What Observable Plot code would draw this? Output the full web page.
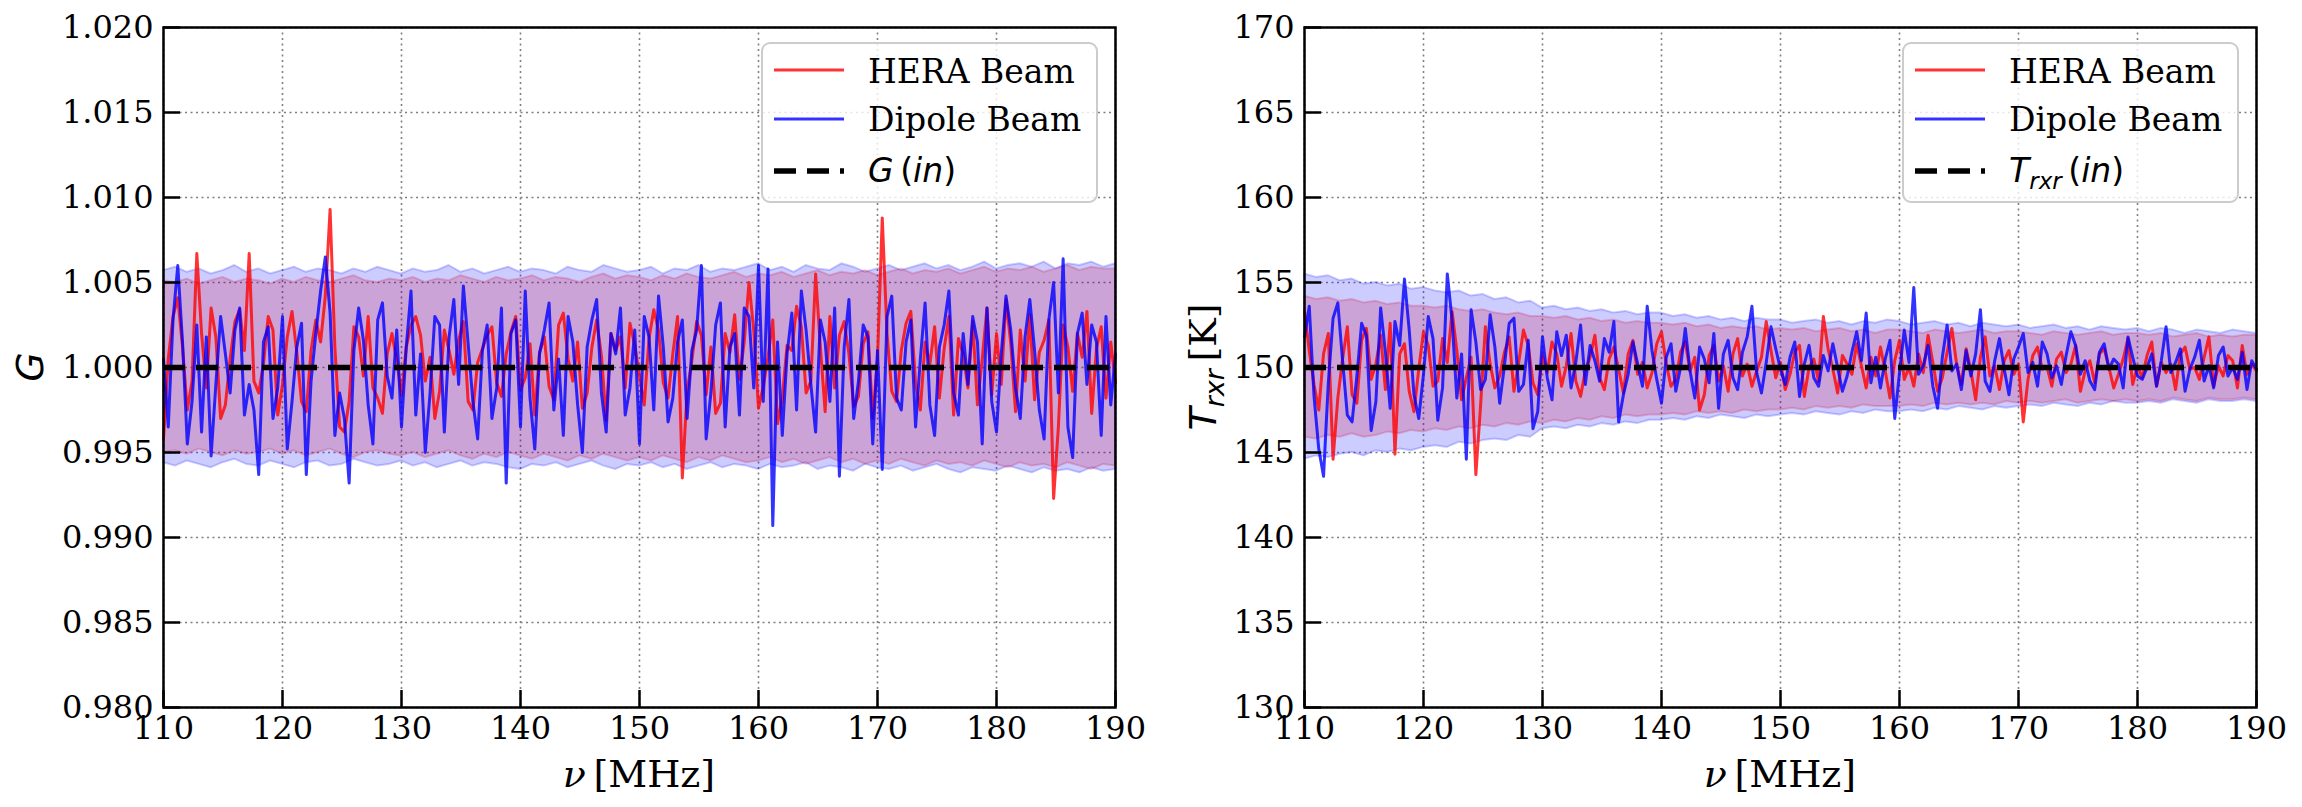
<!DOCTYPE html>
<html><head><meta charset="utf-8">
<script src="https://cdn.jsdelivr.net/npm/d3@7"></script>
<script src="https://cdn.jsdelivr.net/npm/@observablehq/plot@0.6"></script>
<style>
body{margin:0;background:#fff}
#wrap{position:relative;width:2302px;height:807px;display:flex}
#wrap svg{display:block}
</style>
</head><body><div id="wrap"></div>
<script>
// ---- tick values ----
const xTicks = [110,120,130,140,150,160,170,180,190];
const gTicks = [0.980,0.985,0.990,0.995,1.000,1.005,1.010,1.015,1.020];
const tTicks = [130,135,140,145,150,155,160,165,170];
const gTrue = 1.0;     // G(in)
const tTrue = 150;     // T_rxr(in)
const seriesNames = ["HERA Beam", "Dipole Beam"];

// frequency grid of the recovered solutions (MHz) and of the 1-sigma bands
const freq = d3.range(201).map(i => +(110 + i * 0.4).toFixed(1));
const bandFreq = d3.range(110, 191);

// ---- recovered gain G ----
const gHera = [
0.9958,1.0005,1.003,1.0041,1.0012,0.9975,0.9992,1.0067,1.002,0.9988,
1.0035,1.0018,0.997,0.9978,1.0005,1.0027,1.0034,1.001,1.0067,0.9992,
0.9985,1.0002,1.003,1.0022,0.9972,0.999,1.0018,1.0033,1.0009,0.998,
0.9974,1.001,1.0028,1.0015,1.0042,1.0093,1.0012,0.9965,0.9962,0.998,
1.0024,1.0018,0.9995,1.003,0.9988,0.9982,0.9973,1.0008,1.002,1.0004,
0.9984,1.0012,1.0025,1.003,1.0019,0.9992,1.0006,0.997,0.9986,1.0022,
1.001,0.9996,1.0016,1.0027,0.998,0.9975,1.0003,1.0011,1.0019,1.0024,
0.9991,0.9983,1.0008,1.0021,1.003,0.9987,0.9994,1.0014,0.9972,1.0009,
1.0018,0.9989,0.9981,1.0025,1.0032,1.0005,0.9992,1.0015,0.9976,0.9985,
1.0012,1.0028,1.0007,0.9969,1.002,1.001,1.0018,0.9988,1.0026,1.0013,
0.9995,0.9978,1.0017,1.0034,1.0022,0.9991,0.9982,1.0008,1.003,0.9935,
0.9986,1.0004,1.0027,1.0019,0.9984,1.0012,0.9973,0.9979,1.002,1.0009,
1.0031,0.9993,1.0015,1.005,1.0022,0.9976,0.9989,1.0006,1.0028,0.9967,
0.9982,1.0013,1.001,1.0036,1.0024,0.9985,0.9992,1.0055,1.0012,0.9974,
1.003,0.9988,1.0019,1.0027,1.0008,0.9977,0.9983,1.0014,1.0021,0.997,
1.0005,1.0088,1.002,0.9986,0.998,1.001,1.0026,1.0033,0.9991,0.9975,
1.0015,1.0002,1.0024,0.9982,1.0011,1.003,0.9972,1.0017,1.0008,0.9988,
1.0027,0.9978,1.0005,1.0035,0.9984,1.002,0.999,1.004,1.0014,0.9974,
1.0022,0.9992,1.0031,0.9981,1.0009,1.0016,1.0028,0.9923,0.9965,1.0025,
1.0012,0.9986,1.002,1.0006,1.0033,0.9973,1.0011,1.0024,0.9982,1.0015,0.9991];

const gDipole = [
1.0005,0.9965,1.0028,1.006,1.0015,0.9955,0.998,1.0025,0.9962,1.0018,
0.9948,0.999,1.003,1.0008,0.9985,1.0022,1.0035,0.9972,0.999,0.9975,
0.9937,1.0015,1.0024,0.997,0.9988,1.003,0.9952,0.998,1.0012,1.0026,
0.9937,0.9992,1.002,1.0045,1.0065,1.0032,0.996,0.9985,0.997,0.9932,
1.001,1.0035,1.0016,0.9978,0.9955,1.0028,1.0038,0.9995,0.9982,1.0022,
0.9965,1.0012,1.0045,0.9972,1.0008,0.995,0.9985,1.003,1.0025,0.9962,
1.0018,1.004,0.999,1.0048,1.0014,0.998,0.9958,1.001,1.0025,0.997,
0.9988,1.0035,0.9932,1.002,1.0028,0.9965,1.0045,0.9982,0.9952,1.0008,
1.0022,1.0038,0.9975,1.0005,0.996,1.003,1.0015,0.9978,0.995,1.0012,
1.0028,1.004,0.9985,0.9962,1.002,1.0008,1.0035,0.9972,0.9988,1.0022,
0.9955,1.003,1.0018,0.9975,1.0042,1.0012,0.9968,0.9982,1.0015,1.0028,
0.997,1.001,1.0022,1.006,0.9958,0.9985,1.0025,1.0038,0.9965,1.0012,
1.002,0.9972,1.0035,1.003,0.9988,1.006,0.998,1.0058,0.9907,1.0015,
0.996,1.0008,1.0032,0.9975,1.0045,1.0022,0.999,0.9962,1.0028,1.0015,
0.998,1.0035,0.9936,1.0012,1.004,0.997,0.9992,1.0025,1.0018,0.9955,
1.001,0.994,1.003,1.0042,0.9982,0.9975,1.0015,1.0028,0.9965,1.0005,
1.0038,0.9978,0.996,1.0012,1.0025,1.0045,0.9985,0.9972,1.002,0.999,
1.003,1.0015,0.9955,1.0035,0.998,0.9962,1.0008,1.0042,1.0022,0.9988,
0.997,1.0018,1.004,1.001,0.9975,0.9958,1.0028,1.005,0.9985,1.0064,
0.9965,0.9947,1.002,1.0032,0.999,1.0025,1.0015,0.996,1.003,0.9978,1.0008];

// 1-sigma bands of G (1 MHz grid)
const gHeraHi = [
1.0051,1.005,1.0052,1.0049,1.0051,1.0053,1.005,1.0052,1.0051,1.0049,
1.0052,1.005,1.0053,1.0051,1.005,1.0052,1.0054,1.0051,1.005,1.0052,
1.0051,1.0053,1.005,1.0052,1.0051,1.0054,1.0052,1.005,1.0053,1.0051,
1.0052,1.0054,1.0051,1.0053,1.0052,1.005,1.0053,1.0055,1.0052,1.0054,
1.0053,1.0051,1.0054,1.0052,1.0055,1.0053,1.0052,1.0054,1.0056,1.0053,
1.0055,1.0054,1.0056,1.0053,1.0055,1.0057,1.0054,1.0056,1.0055,1.0057,
1.0054,1.0056,1.0058,1.0055,1.0057,1.0056,1.0058,1.0055,1.0057,1.0059,
1.0056,1.0058,1.0057,1.0059,1.0056,1.0058,1.006,1.0057,1.0059,1.0058,1.0058];
const gHeraLo = [
0.995,0.9951,0.9949,0.9952,0.995,0.9948,0.9951,0.9949,0.995,0.9952,
0.9949,0.9951,0.9948,0.995,0.9952,0.9949,0.9947,0.995,0.9951,0.9949,
0.9948,0.995,0.9947,0.9949,0.9951,0.9948,0.9946,0.9949,0.9947,0.995,
0.9948,0.9946,0.9949,0.9947,0.9945,0.9948,0.9946,0.9949,0.9947,0.9945,
0.9947,0.9945,0.9948,0.9946,0.9944,0.9947,0.9945,0.9948,0.9946,0.9944,
0.9945,0.9947,0.9944,0.9946,0.9943,0.9945,0.9947,0.9944,0.9946,0.9943,
0.9945,0.9943,0.9946,0.9944,0.9942,0.9945,0.9943,0.9944,0.9942,0.9945,
0.9943,0.9941,0.9944,0.9942,0.9943,0.9941,0.9944,0.9942,0.994,0.9943,0.9942];
const gDipHi = [
1.0057,1.0059,1.0056,1.0058,1.0055,1.0057,1.006,1.0056,1.0058,1.0055,
1.0057,1.0059,1.0056,1.0058,1.0057,1.0055,1.0058,1.0056,1.0059,1.0057,
1.0055,1.0058,1.0056,1.0057,1.006,1.0056,1.0058,1.0055,1.0057,1.0059,
1.0056,1.0058,1.0057,1.0055,1.0059,1.0057,1.0056,1.006,1.0058,1.0056,
1.0057,1.0059,1.0055,1.0058,1.0057,1.006,1.0056,1.0058,1.0057,1.0059,
1.0061,1.0057,1.0059,1.0056,1.006,1.0058,1.0057,1.0061,1.0059,1.0056,
1.0058,1.006,1.0057,1.0059,1.0061,1.0058,1.006,1.0057,1.0059,1.0062,
1.0058,1.006,1.0061,1.0059,1.0062,1.0058,1.0061,1.006,1.0062,1.0059,1.0061];
const gDipLo = [
0.9944,0.9942,0.9945,0.9943,0.9941,0.9944,0.9946,0.9943,0.9942,0.9945,
0.9943,0.9941,0.9944,0.9945,0.9942,0.9943,0.9946,0.9944,0.9942,0.9943,
0.9945,0.9942,0.9944,0.9941,0.9943,0.9945,0.9942,0.9944,0.9943,0.9941,
0.994,0.9943,0.9942,0.9944,0.9941,0.9943,0.9945,0.9942,0.994,0.9943,
0.9942,0.9944,0.9941,0.9943,0.994,0.9942,0.9944,0.9941,0.9943,0.9942,
0.994,0.9943,0.9941,0.9942,0.9944,0.994,0.9942,0.9941,0.9939,0.9943,
0.9941,0.994,0.9942,0.9939,0.9941,0.9943,0.994,0.9938,0.9941,0.994,
0.9939,0.9942,0.994,0.9938,0.9941,0.9939,0.994,0.9938,0.9941,0.9939,0.994];

// ---- recovered receiver temperature T_rxr (K) ----
const tHera = [
153.3,151.0,149.0,147.5,150.8,152.0,144.6,148.2,150.5,152.4,
148.4,147.9,151.6,152.3,149.3,150.2,151.9,148.7,152.6,144.9,
150.8,151.4,148.6,147.4,149.9,152.1,151.3,148.9,149.2,151.7,
150.3,153.3,151.0,148.1,149.4,150.6,143.7,147.8,152.4,150.2,
148.8,149.5,150.9,151.8,148.6,150.3,152.2,151.3,149.1,148.4,
150.7,149.7,151.5,150.8,148.9,150.1,152.0,149.2,148.3,149.8,
150.6,151.9,149.4,148.7,150.5,151.2,149.9,148.5,150.8,151.6,
149.6,150.3,148.8,149.7,151.4,152.1,150.2,148.9,149.3,150.9,
151.5,149.8,150.6,147.5,148.4,150.7,151.3,149.2,150.1,148.6,
150.8,151.7,149.5,150.2,148.9,149.8,150.6,152.7,151.0,149.4,
150.3,148.7,149.6,150.9,151.3,148.3,150.0,150.5,149.2,153.0,
151.1,149.9,148.5,150.7,150.2,149.6,151.4,150.1,148.8,150.6,
149.5,151.2,149.8,148.2,150.4,151.6,149.3,150.0,148.9,150.8,
149.7,151.9,150.3,148.6,149.4,150.9,152.3,150.2,149.0,151.1,
149.8,148.1,150.6,151.8,149.5,150.1,148.7,150.4,151.0,149.6,
150.2,146.8,149.3,150.7,151.2,149.9,150.0,148.9,150.5,150.9,
149.7,150.2,151.3,148.6,149.8,150.4,149.1,150.8,151.1,150.0,
148.8,149.6,150.5,151.7,149.0,150.1,149.4,150.7,151.5,148.9,
150.3,149.7,150.2,148.7,150.8,151.2,149.9,150.0,149.3,150.6,
151.8,148.9,150.1,149.5,150.7,150.4,148.8,151.3,149.6,150.2,149.8];

const tDipole = [
151.8,153.6,148.3,145.2,143.6,149.1,152.9,153.8,150.4,147.2,
146.8,149.5,152.6,151.9,146.3,148.0,153.5,150.9,147.6,152.7,
151.3,155.2,152.2,148.4,147.0,149.6,153.0,151.7,146.9,148.8,
155.5,152.8,148.2,150.8,144.6,153.4,151.5,148.7,149.3,153.1,
151.2,147.9,150.1,152.6,152.9,148.6,149.0,151.6,146.4,147.4,
151.8,149.4,148.1,152.1,150.7,151.9,148.8,150.3,152.5,149.0,
151.3,150.4,149.2,151.7,150.9,152.7,146.8,148.4,149.6,151.5,
150.2,148.9,153.6,151.0,149.3,147.9,150.6,151.4,148.6,150.0,
152.3,149.8,148.2,151.2,150.5,149.1,152.0,147.6,150.8,151.6,
149.4,148.7,150.9,151.8,153.6,149.7,148.5,150.3,152.4,151.1,
149.9,149.0,150.6,151.5,148.3,150.2,151.3,149.4,148.9,150.7,
149.8,151.4,150.0,148.6,149.5,150.9,152.1,150.4,153.2,149.1,
150.6,148.8,150.5,151.6,147.0,149.7,152.2,150.3,154.7,149.6,
150.1,151.3,148.9,147.6,150.6,152.5,149.8,150.2,148.7,151.0,
149.5,150.8,153.4,149.2,148.6,150.4,151.7,149.9,148.4,150.5,
151.2,152.0,149.7,150.3,148.9,151.5,150.8,149.4,150.1,149.0,
150.7,152.1,151.3,149.6,150.4,149.2,148.7,150.9,151.4,149.9,
150.5,150.2,148.8,151.8,150.6,149.5,149.3,150.0,150.8,148.9,
150.4,152.4,149.7,150.3,151.1,148.6,149.9,150.6,151.6,149.2,
150.1,148.8,150.7,151.2,149.5,150.0,149.3,150.9,148.7,150.4,149.9];

// 1-sigma bands of T_rxr (1 MHz grid)
const tHeraHi = [
154.2,154.0,154.1,153.9,154.0,153.8,153.9,153.7,153.8,153.6,
153.6,153.5,153.6,153.4,153.3,153.4,153.2,153.1,153.2,153.0,
153.0,152.9,153.0,152.8,152.9,152.7,152.8,152.6,152.7,152.6,
152.6,152.5,152.6,152.4,152.5,152.3,152.4,152.3,152.4,152.2,
152.3,152.2,152.3,152.1,152.2,152.3,152.1,152.2,152.0,152.2,
152.2,152.1,152.0,152.2,152.1,152.0,152.1,152.2,152.0,152.1,
152.1,152.0,151.9,152.1,152.0,151.9,152.0,152.1,151.9,152.0,
152.0,151.9,152.0,151.8,151.9,152.0,151.8,151.9,151.8,151.9,151.9];
const tHeraLo = [
145.9,145.8,146.0,145.9,146.1,145.9,146.0,146.2,146.1,146.3,
146.2,146.4,146.3,146.5,146.4,146.6,146.5,146.7,146.6,146.8,
146.7,146.9,146.8,147.0,146.9,147.1,147.0,147.2,147.1,147.2,
147.2,147.3,147.2,147.4,147.3,147.4,147.3,147.5,147.4,147.5,
147.5,147.6,147.5,147.7,147.6,147.7,147.6,147.8,147.7,147.7,
147.7,147.8,147.7,147.9,147.8,147.9,147.8,147.9,147.8,148.0,
147.9,148.0,147.9,148.0,148.1,147.9,148.0,148.1,148.0,148.1,
148.0,148.1,148.0,148.2,148.1,148.0,148.2,148.1,148.1,148.2,148.1];
const tDipHi = [
155.5,155.3,155.4,155.1,155.2,154.9,155.0,154.8,154.9,154.6,
154.7,154.5,154.4,154.5,154.2,154.3,154.0,154.1,153.8,153.9,
153.5,153.6,153.4,153.5,153.3,153.4,153.2,153.3,153.1,153.2,
153.2,153.0,153.1,152.9,153.0,152.8,152.9,152.7,152.9,152.8,
152.8,152.6,152.7,152.8,152.6,152.7,152.5,152.7,152.6,152.8,
152.7,152.5,152.6,152.7,152.5,152.6,152.4,152.6,152.5,152.4,
152.5,152.3,152.4,152.5,152.3,152.4,152.2,152.4,152.3,152.2,
152.3,152.1,152.3,152.2,152.0,152.2,152.1,152.0,152.2,152.1,152.0];
const tDipLo = [
144.6,144.8,144.7,144.9,145.0,144.8,145.1,145.0,145.2,145.1,
145.3,145.4,145.3,145.6,145.5,145.7,145.8,145.7,146.0,145.9,
146.4,146.5,146.4,146.6,146.5,146.7,146.6,146.8,146.7,146.9,
146.9,147.0,146.9,147.1,147.0,147.2,147.1,147.0,147.2,147.1,
147.2,147.3,147.2,147.4,147.3,147.2,147.4,147.3,147.5,147.4,
147.4,147.5,147.4,147.6,147.5,147.7,147.6,147.5,147.7,147.6,
147.7,147.8,147.7,147.9,147.8,147.7,147.9,147.8,148.0,147.9,
147.9,148.0,147.9,148.1,148.0,147.9,148.1,148.0,148.0,148.1,148.0];

// ---- tables for Plot ----
const gLines = freq.map((f, i) => ({f, hera: gHera[i], dipole: gDipole[i]}));
const tLines = freq.map((f, i) => ({f, hera: tHera[i], dipole: tDipole[i]}));
const gBands = bandFreq.map((f, i) => ({f, rLo: gHeraLo[i], rHi: gHeraHi[i], bLo: gDipLo[i], bHi: gDipHi[i]}));
const tBands = bandFreq.map((f, i) => ({f, rLo: tHeraLo[i], rHi: tHeraHi[i], bLo: tDipLo[i], bHi: tDipHi[i]}));

const RED = "#ff0000", BLUE = "#0000ff";
const gridStyle = {stroke: "#7f7f7f", strokeOpacity: 1, strokeWidth: 1.6, strokeDasharray: "2,3.5"};

function panel({lines, bands, yDomain, yTicks, yFormat, truth, mLeft, mRight}) {
  return Plot.plot({
    width: 1151, height: 807,
    marginTop: 27, marginBottom: 100, marginLeft: mLeft, marginRight: mRight,
    x: {domain: [110, 190]},
    y: {domain: yDomain},
    style: {fontFamily: "'DejaVu Serif', serif", fontSize: "32px", color: "black", background: "transparent", overflow: "visible"},
    marks: [
      Plot.gridX(xTicks, gridStyle),
      Plot.gridY(yTicks, gridStyle),
      Plot.areaY(bands, {x: "f", y1: "rLo", y2: "rHi", fill: RED, fillOpacity: 0.2, stroke: RED, strokeOpacity: 0.2, strokeWidth: 2}),
      Plot.areaY(bands, {x: "f", y1: "bLo", y2: "bHi", fill: BLUE, fillOpacity: 0.2, stroke: BLUE, strokeOpacity: 0.2, strokeWidth: 2}),
      Plot.line(lines, {x: "f", y: "hera", stroke: RED, strokeOpacity: 0.8, strokeWidth: 3}),
      Plot.line(lines, {x: "f", y: "dipole", stroke: BLUE, strokeOpacity: 0.8, strokeWidth: 3}),
      Plot.ruleY([truth], {stroke: "black", strokeWidth: 5.5, strokeDasharray: "22,11"}),
      Plot.ruleX(xTicks, {x: d => d, insetTop: 663, stroke: "black", strokeWidth: 2.5}),
      Plot.ruleY(yTicks, {y: d => d, insetRight: 935, stroke: "black", strokeWidth: 2.5}),
      Plot.frame({stroke: "black", strokeWidth: 2.5}),
      Plot.axisX(xTicks, {tickSize: 0, tickPadding: 9, fontSize: 32, label: null}),
      Plot.axisY(yTicks, {tickSize: 0, tickPadding: 10, fontSize: 32, label: null, tickFormat: yFormat})
    ]
  });
}

const wrap = document.getElementById("wrap");
wrap.append(panel({lines: gLines, bands: gBands, yDomain: [0.98, 1.02], yTicks: gTicks,
  yFormat: d3.format(".3f"), truth: gTrue, mLeft: 163, mRight: 36}));
wrap.append(panel({lines: tLines, bands: tBands, yDomain: [130, 170], yTicks: tTicks,
  yFormat: d => String(d), truth: tTrue, mLeft: 153, mRight: 46}));

// ---- overlay: axis labels and legends ----
const ov = d3.select(wrap).append("svg")
  .attr("width", 2302).attr("height", 807)
  .style("position", "absolute").style("left", "0").style("top", "0");

const SANS = "'DejaVu Sans', sans-serif", SERIF = "'DejaVu Serif', serif";

function xLabel(cx) {
  const t = ov.append("text").attr("x", cx).attr("y", 787).attr("text-anchor", "middle")
    .attr("font-size", 38).attr("font-family", SERIF);
  t.append("tspan").attr("font-style", "italic").text("ν");
  t.append("tspan").text("\u2009[MHz]");
}
xLabel(639);
xLabel(1780);

// y label G
ov.append("text").attr("transform", "translate(29,367) rotate(-90)").attr("y", 14)
  .attr("text-anchor", "middle").attr("font-size", 38).attr("font-family", SANS)
  .attr("font-style", "italic").text("G");

// y label T_rxr [K]
{
  const t = ov.append("text").attr("transform", "translate(1203,367) rotate(-90)").attr("y", 13)
    .attr("text-anchor", "middle").attr("font-size", 38);
  t.append("tspan").attr("font-family", SANS).attr("font-style", "italic").text("T");
  t.append("tspan").attr("font-family", SANS).attr("font-style", "italic").attr("font-size", 27).attr("dy", 8).text("rxr");
  t.append("tspan").attr("font-family", SERIF).attr("dy", -8).text("\u2009[K]");
}

function legend(x0, symbol, sub) {
  const g = ov.append("g").attr("transform", `translate(${x0},43)`);
  g.append("rect").attr("x", 0).attr("y", 0).attr("width", 335).attr("height", 159).attr("rx", 8)
    .attr("fill", "white").attr("fill-opacity", 0.8).attr("stroke", "#cccccc").attr("stroke-width", 2);
  g.append("line").attr("x1", 12).attr("x2", 82).attr("y1", 27).attr("y2", 27)
    .attr("stroke", RED).attr("stroke-opacity", 0.8).attr("stroke-width", 3);
  g.append("line").attr("x1", 12).attr("x2", 82).attr("y1", 76).attr("y2", 76)
    .attr("stroke", BLUE).attr("stroke-opacity", 0.8).attr("stroke-width", 3);
  g.append("line").attr("x1", 12).attr("x2", 82).attr("y1", 128).attr("y2", 128)
    .attr("stroke", "black").attr("stroke-width", 5.5).attr("stroke-dasharray", "22,11");
  g.append("text").attr("x", 106).attr("y", 39.7).attr("font-family", SERIF).attr("font-size", 33).text(seriesNames[0]);
  g.append("text").attr("x", 106).attr("y", 87.7).attr("font-family", SERIF).attr("font-size", 33).text(seriesNames[1]);
  const t = g.append("text").attr("x", 106).attr("y", 138.7).attr("font-family", SANS).attr("font-size", 33);
  t.append("tspan").attr("font-style", "italic").text(symbol);
  if (sub) {
    t.append("tspan").attr("font-style", "italic").attr("font-size", 23).attr("dy", 7).text(sub);
    t.append("tspan").attr("dy", -7).text("\u2009(");
  } else {
    t.append("tspan").text("\u2009(");
  }
  t.append("tspan").attr("font-style", "italic").text("in");
  t.append("tspan").text(")");
}
legend(762, "G", null);
legend(1903, "T", "rxr");
</script></body></html>
